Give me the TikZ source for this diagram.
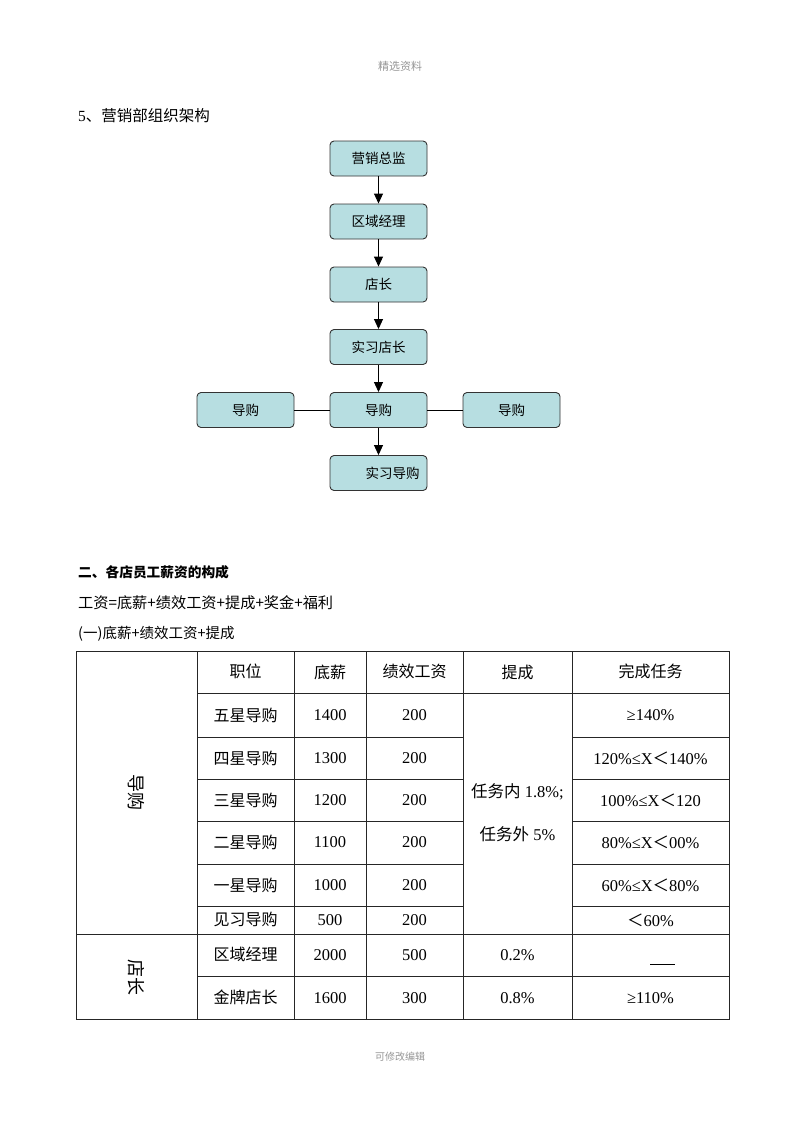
\documentclass[tikz,border=0pt]{standalone}
\usepackage{fontspec}
\setmainfont{Liberation Serif}
\newfontfamily\cjk{Noto Sans CJK SC}
\usetikzlibrary{arrows.meta}
\definecolor{boxfill}{RGB}{183,222,225}
\definecolor{hdrgrey}{RGB}{150,150,150}
\tikzset{
  orgbox/.style={draw=black!80, line width=0.9pt, fill=boxfill, rounded corners=4pt,
    minimum width=97pt, minimum height=35pt, inner sep=0pt, font=\cjk\fontsize{13.5}{15}\selectfont},
  arr/.style={-{Triangle[length=10pt,width=9pt]}, line width=0.9pt},
  link/.style={line width=0.9pt},
  para/.style={anchor=west, inner sep=0pt, font=\cjk\fontsize{14.5}{16}\selectfont},
  cell/.style={inner sep=0pt, font=\fontsize{16.5}{18}\selectfont},
  ccell/.style={inner sep=0pt, font=\cjk\fontsize{16}{18}\selectfont},
  grid/.style={line width=0.8pt, black!85},
}
\begin{document}
\begin{tikzpicture}[x=1pt,y=-1pt]
\useasboundingbox (0,0) rectangle (800,1132);
\fill[white] (0,0) rectangle (800,1132);

% header / footer
\node[font=\cjk\fontsize{11}{13}\selectfont, text=hdrgrey] (hdr) at (400,66) {精选资料};
\node[font=\cjk\fontsize{10}{12}\selectfont, text=hdrgrey] (ftr) at (400,1057) {可修改编辑};

% title
\node[anchor=west, inner sep=0pt, font=\fontsize{15.5}{18}\selectfont] (title) at (78,116) {5{\cjk 、营销部组织架构}};

% org chart
\node[orgbox] (zj) at (378.5,158.5) {营销总监};
\node[orgbox] (qy) at (378.5,221.5) {区域经理};
\node[orgbox] (dz) at (378.5,284.5) {店长};
\node[orgbox] (sxdz) at (378.5,347) {实习店长};
\node[orgbox] (dg) at (378.5,410) {导购};
\node[orgbox] (dgl) at (245.5,410) {导购};
\node[orgbox] (dgr) at (511.5,410) {导购};
\node[orgbox] (sxdg) at (378.5,473) {\hspace{28pt}实习导购};

\draw[arr] (zj) -- (qy);
\draw[arr] (qy) -- (dz);
\draw[arr] (dz) -- (sxdz);
\draw[arr] (sxdz) -- (dg);
\draw[arr] (dg) -- (sxdg);
\draw[link] (dgl) -- (dg);
\draw[link] (dg) -- (dgr);

% section text
\node[para, font=\cjk\bfseries\fontsize{13.7}{16}\selectfont] (s2) at (78,572) {二、各店员工薪资的构成};
\node[para, font=\cjk\fontsize{15.2}{16}\selectfont] (f1) at (78,603) {工资=底薪+绩效工资+提成+奖金+福利};
\node[para] (f2) at (78,634) {(一)底薪+绩效工资+提成};

% table grid
\draw[grid] (76,651) rectangle (729,1019);
\foreach \x in {197,294,366,463,572} \draw[grid] (\x,651) -- (\x,1019);
\draw[grid] (197,693) -- (729,693);
\foreach \y in {737,779,821,864,906} {
  \draw[grid] (197,\y) -- (463,\y);
  \draw[grid] (572,\y) -- (729,\y);
}
\draw[grid] (76,934) -- (729,934);
\draw[grid] (197,976) -- (729,976);

% header row
\node[ccell] (h1) at (245.5,671) {职位};
\node[ccell] (h2) at (330,672) {底薪};
\node[ccell] (h3) at (414.5,671) {绩效工资};
\node[ccell] (h4) at (517.5,672) {提成};
\node[ccell] (h5) at (650.5,671) {完成任务};

% side labels
\node[ccell, rotate=-90, font=\cjk\fontsize{18}{20}\selectfont] (sdg) at (136,792) {导购};
\node[ccell, rotate=-90, font=\cjk\fontsize{18}{20}\selectfont] (sdz) at (136,977) {店长};

% rows
\node[ccell] (a1) at (245.5,715) {五星导购};
\node[cell] (b1) at (330,715) {1400};
\node[cell] (c1) at (414.5,715) {200};
\node[cell] (d1) at (650.5,715) {≥140\%};

\node[ccell] (a2) at (245.5,758) {四星导购};
\node[cell] (b2) at (330,758) {1300};
\node[cell] (c2) at (414.5,758) {200};
\node[cell] (d2) at (650.5,758) {120\%≤X{\cjk ＜}140\%};

\node[ccell] (a3) at (245.5,800) {三星导购};
\node[cell] (b3) at (330,800) {1200};
\node[cell] (c3) at (414.5,800) {200};
\node[cell] (d3) at (650.5,800) {100\%≤X{\cjk ＜}120};

\node[ccell] (a4) at (245.5,842.5) {二星导购};
\node[cell] (b4) at (330,842.5) {1100};
\node[cell] (c4) at (414.5,842.5) {200};
\node[cell] (d4) at (650.5,842.5) {80\%≤X{\cjk ＜}00\%};

\node[ccell] (a5) at (245.5,885) {一星导购};
\node[cell] (b5) at (330,885) {1000};
\node[cell] (c5) at (414.5,885) {200};
\node[cell] (d5) at (650.5,885) {60\%≤X{\cjk ＜}80\%};

\node[ccell] (a6) at (245.5,919.5) {见习导购};
\node[cell] (b6) at (330,920) {500};
\node[cell] (c6) at (414.5,920) {200};
\node[cell] (d6) at (650.5,920) {{\cjk ＜}60\%};

\node[cell] (e1) at (517.5,792) {{\cjk 任务内} 1.8\%;};
\node[cell] (e2) at (517.5,834) {{\cjk 任务外} 5\%};

\node[ccell] (a7) at (245.5,954) {区域经理};
\node[cell] (b7) at (330,955) {2000};
\node[cell] (c7) at (414.5,955) {500};
\node[cell] (e7) at (517.5,955) {0.2\%};
\coordinate (d7a) at (650,964);
\coordinate (d7b) at (675,964);
\draw[line width=0.8pt] (d7a) -- (d7b);

\node[ccell] (a8) at (245.5,997.5) {金牌店长};
\node[cell] (b8) at (330,998) {1600};
\node[cell] (c8) at (414.5,998) {300};
\node[cell] (e8) at (517.5,998) {0.8\%};
\node[cell] (d8) at (650.5,998) {≥110\%};
\end{tikzpicture}
\end{document}
